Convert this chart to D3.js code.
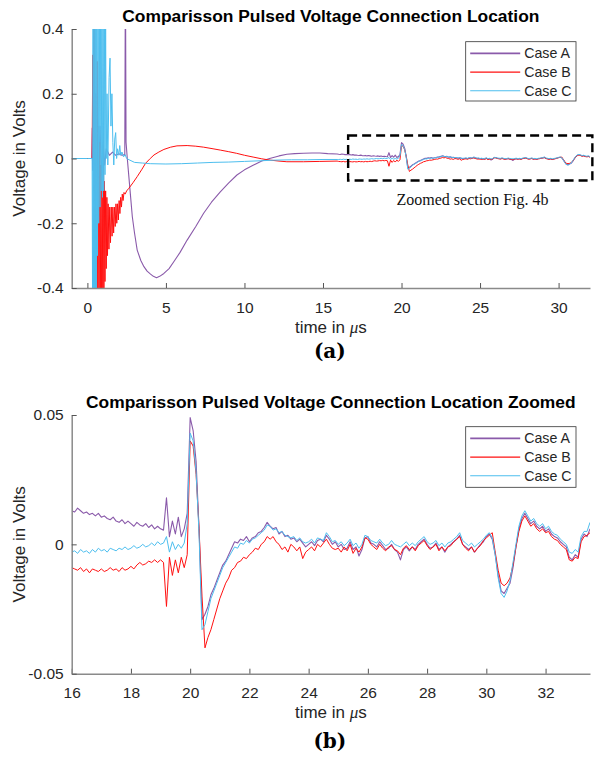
<!DOCTYPE html>
<html><head><meta charset="utf-8">
<script src="https://cdn.jsdelivr.net/npm/d3@7"></script>
<style>
body{margin:0;background:#fff}
svg{display:block}
</style>
</head><body>
<svg id="chart" width="600" height="758"></svg>
<script>
// ---------------- data ----------------
const seriesNames = ["Case A", "Case B", "Case C"];

// Early transient part (top panel): [time in µs, volts]
const earlyA = [[-1,0],[0,0],[0.28,0],[0.31,0.094],[0.33,-0.036],[0.36,0.02],[0.40,0.3],[0.44,-0.3],[0.50,0.2],[0.56,-0.2],
  [0.62,0.15],[0.70,-0.1],[0.80,0.1],[0.90,-0.05],[1.00,0.05],[1.10,-0.02],[1.20,0.03],[1.40,0.01],[1.60,0.02],[1.80,0.01],
  [2.00,0.015],[2.20,0.01],[2.38,0.012],[2.42,0.6],[2.46,0.05],[2.54,0.0],[2.70,-0.09],[2.86,-0.18],[3.00,-0.23],[3.17,-0.283],
  [3.40,-0.315],[3.60,-0.334],[3.80,-0.348],[4.02,-0.357],[4.20,-0.364],[4.40,-0.368],[4.60,-0.364],[4.87,-0.355],[5.20,-0.34],[5.50,-0.319],
  [5.90,-0.29],[6.35,-0.252],[6.90,-0.21],[7.40,-0.169],[7.90,-0.135],[8.46,-0.103],[9.00,-0.075],[9.52,-0.051],[10.00,-0.035],[10.58,-0.02],
  [11.10,-0.008],[11.60,0.0],[12.20,0.008],[12.70,0.013],[13.20,0.015],[13.75,0.016],[14.30,0.017],[14.80,0.017],[15.30,0.015],[15.90,0.014]];

const earlyB = [[-1,0],[0,0],[0.3,0],[0.34,0.32],[0.37,0.05],[0.40,0.6],[0.43,-0.1],[0.46,0.6],[0.50,-0.5],[0.54,0.2],
  [0.58,-0.5],[0.62,0.3],[0.66,-0.5],[0.70,0.1],[0.74,-0.5],[0.78,0.05],[0.82,-0.5],[0.86,-0.02],[0.90,-0.45],[0.94,-0.05],
  [0.98,-0.45],[1.02,0.11],[1.05,-0.42],[1.08,-0.07],[1.12,-0.38],[1.16,-0.1],[1.20,-0.34],[1.24,-0.12],[1.28,-0.3],[1.32,-0.14],
  [1.37,-0.28],[1.42,-0.15],[1.47,-0.26],[1.52,-0.15],[1.57,-0.24],[1.62,-0.15],[1.67,-0.23],[1.72,-0.15],[1.77,-0.21],[1.82,-0.14],
  [1.87,-0.2],[1.92,-0.14],[1.97,-0.19],[2.02,-0.13],[2.07,-0.17],[2.12,-0.12],[2.17,-0.15],[2.22,-0.11],[2.27,-0.13],[2.33,-0.105],
  [2.40,-0.11],[2.50,-0.1],[2.64,-0.092],[2.90,-0.075],[3.17,-0.056],[3.45,-0.035],[3.70,-0.015],[4.00,0.0],[4.24,0.011],[4.55,0.02],
  [4.87,0.028],[5.30,0.035],[5.70,0.039],[6.35,0.04],[6.90,0.038],[7.40,0.035],[8.00,0.03],[8.46,0.026],[9.00,0.021],[9.50,0.016],
  [10.00,0.01],[10.60,0.004],[11.10,-0.001],[11.64,-0.005],[12.20,-0.008],[12.70,-0.01],[13.75,-0.01],[14.80,-0.009],[15.90,-0.008]];

const earlyC = [[-1,0],[0,0],[0.3,0],[0.33,-0.5],[0.36,0.5],[0.39,-0.5],[0.42,0.5],[0.45,-0.5],[0.48,0.5],[0.51,-0.5],
  [0.54,0.5],[0.57,-0.45],[0.60,0.5],[0.64,-0.3],[0.68,0.5],[0.72,-0.2],[0.76,0.5],[0.80,-0.15],[0.84,0.5],[0.88,-0.1],
  [0.92,0.5],[0.96,-0.12],[1.00,0.45],[1.04,-0.1],[1.08,0.45],[1.12,-0.05],[1.16,0.42],[1.20,0.0],[1.25,0.2],[1.30,-0.02],
  [1.38,0.25],[1.44,0.31],[1.50,0.1],[1.56,0.2],[1.62,0.05],[1.68,-0.02],[1.74,0.06],[1.80,0.08],[1.86,0.0],[1.92,0.03],
  [2.00,0.01],[2.06,0.04],[2.12,0.01],[2.20,0.02],[2.30,0.005],[2.40,0.012],[2.50,0.0],[2.70,-0.005],[3.00,-0.012],[3.50,-0.014],
  [4.00,-0.016],[5.00,-0.017],[6.00,-0.016],[7.00,-0.014],[8.00,-0.012],[9.00,-0.011],[10.00,-0.009],[11.00,-0.007],[12.00,-0.005],[13.00,-0.004],
  [14.00,-0.004],[15.00,-0.003],[15.90,-0.003]];

// Zoomed section, sampled every 0.1 µs starting at 16 µs, values in mV
const zoomStart = 16;
const zoomStep = 0.1;
const zoomA_mV = [
  13, 12.5, 14, 13, 12, 12.5, 11.5, 12, 11, 12,
  10.5, 11, 10, 9.5, 10.5, 9, 8.5, 9.5, 8, 9,
  8, 7, 8.5, 7.5, 7, 8, 6.5, 7.5, 6, 7,
  6, 5.5, 18, 3, 9, 4, 10.5, 3, 6, 12,
  49, 44, 32, 6, -29, -27, -24, -19.5, -17, -14,
  -11, -8, -6.5, -4, -1.5, 1, 0.5, 2, 1.5, 3,
  1, 2.5, 3, 4.5, 5, 6.5, 8.5, 7, 6, 6.5,
  4, 5, 3, 3.5, 2, 2.5, 1, 2, 0.5, -1,
  0, 1, -0.5, 1.5, 2, 1, 3.5, 2, 0, 1,
  -1, 0, -2, -1.5, 1, -2, -1, -4.5, -2, 2.5,
  3, 0.5, 0, -1, 1, -0.5, -2, -1.5, 0, -2,
  -3, -6, -2, -1, -2.5, -1, -2, 0, 1, 2,
  0, -1.5, -1, 0.5, -2, -1, -3, -1, 0, 1,
  2, 3.5, 0, -1, -2, -1, -3, -1.5, 0, 1,
  3, 4, 2, -4, -12, -18, -19, -17, -15, -9,
  -1, 6, 10, 12, 10, 8, 9, 7, 6, 7,
  5, 6, 4, 3, 2.5, 1, 0, -1, -5, -6,
  -4, -5, 2, 4, 3, 6];
const zoomB_mV = [
  -9, -9.5, -10, -9, -10.5, -9.5, -11, -9.5, -10, -10.5,
  -9.5, -10.5, -10, -9, -10, -9.5, -10.5, -9, -10, -9.5,
  -8.5, -9.5, -8, -7, -8, -7.5, -6.5, -7, -6, -7,
  -6, -7, -24, -5, -12, -6, -11, -5, -9, -4,
  40, 38, 27, 6, -20, -40, -36, -33, -29, -25,
  -21, -18, -15, -13, -10, -9, -7, -6.5, -5, -5.5,
  -4, -3, -1.5, -2, 0, 1, 3, 2, 3, 1,
  0, -2, -1, -3, 0, -1, -2.5, -1, -5.5, -3,
  -2, -1, -2.5, 0, -1, 0.5, 2, 0, -1.5, -2,
  -1.5, -3, -1, -2.5, 0, -3.5, -1.5, -3, -1, 2.5,
  2, 0, -1, -2, 0, -1.5, -2.5, -1, -0.5, -2,
  -2.5, -4, -1.5, -0.5, -2, -1, -2.5, -0.5, 0.5, 1.5,
  -0.5, -2, -1, 0, -2.5, -1, -2.5, -1, -0.5, 1,
  2, 3, 0, -1.5, -2.5, -1, -3, -1.5, -0.5, 1.5,
  2.5, 3.5, 4.5, -3, -10, -15, -16, -15, -13, -8,
  -1, 5, 9, 11, 9, 7, 8, 6, 5, 6,
  4.5, 5, 3, 2, 1.5, 0, -1, -2, -6, -6.5,
  -5, -5.5, 1, 3, 3.5, 4.5];
const zoomC_mV = [
  -3, -2.5, -3.5, -2, -3, -2.5, -3.5, -2, -3, -1.5,
  -2.5, -2, -3, -1.5, -2, -2.5, -1.5, -2, -1, -2,
  -1.5, -0.5, -1.5, -1, 0, -1, -0.5, 0.5, -0.5, 1,
  0, 0.5, 3, -3, 1, -2, 0, -1.5, 0.5, 8,
  43, 40, 28, 4, -33, -31, -26, -21, -18, -15,
  -12, -9, -7, -5, -3, -1, -1.5, 0.5, 0, 1.5,
  0.5, 2, 2.5, 3.5, 4.5, 5.5, 7.5, 7, 5.5, 6,
  4.5, 5, 3.5, 3, 2.5, 3, 1.5, 2.5, 1, 0.5,
  1, 2, 0.5, 2.5, 2, 1.5, 4.5, 3, 1, 1.5,
  0, 1, -0.5, 0.5, 2, -0.5, 0.5, -1.5, 0, 3.5,
  3, 1.5, 1, 0.5, 2, 0.5, -0.5, 0, 1.5, 0,
  -0.5, -1, 0, 1, -0.5, 0.5, -0.5, 1, 2, 3,
  1, 0, 0.5, 1.5, -0.5, 0.5, -1, 0.5, 1, 2,
  3, 4.5, 1.5, 0.5, -0.5, 0.5, -1, 0, 1, 2,
  3.5, 4.5, 2.5, -4, -13, -19, -20.5, -18, -14, -7,
  0, 7, 11, 13, 11, 9, 10, 8, 7, 8,
  6, 7, 5, 4, 3.5, 2, 1, 0, -3, -3.5,
  -2, -3, 3, 5, 5, 8.5];

const topXTicks = [0, 5, 10, 15, 20, 25, 30];
const topXTickLabels = ["0", "5", "10", "15", "20", "25", "30"];
const topYTicks = [-0.4, -0.2, 0, 0.2, 0.4];
const topYTickLabels = ["-0.4", "-0.2", "0", "0.2", "0.4"];
const botXTicks = [16, 18, 20, 22, 24, 26, 28, 30, 32];
const botXTickLabels = ["16", "18", "20", "22", "24", "26", "28", "30", "32"];
const botYTicks = [-0.05, 0, 0.05];
const botYTickLabels = ["-0.05", "0", "0.05"];

// zoomed-section marker in top panel (data coordinates)
const zoomBoxT = [16.6, 32.15];
const zoomBoxV = [-0.068, 0.071];

// ---------------- build series ----------------
function zoomSeries(arr) { return arr.map((v, i) => [zoomStart + i * zoomStep, v / 1000]); }
const zA = zoomSeries(zoomA_mV), zB = zoomSeries(zoomB_mV), zC = zoomSeries(zoomC_mV);
const topSeries = [earlyA.concat(zA), earlyB.concat(zB), earlyC.concat(zC)];
const botSeries = [zA, zB, zC];

// ---------------- style ----------------
const colors = ["#8A5AAA", "#FF1010", "#4DBEEE"];
const widths = [1.1, 1, 1];
const SANS = "'Liberation Sans', Arial, Helvetica, sans-serif";
const TXT = "#262626";
const AX = "#8a8a8a";

const svg = d3.select("#chart");

function panel(cfg) {
  const x = d3.scaleLinear().domain(cfg.xDomain).range([cfg.left, cfg.right]);
  const y = d3.scaleLinear().domain(cfg.yDomain).range([cfg.bottom, cfg.top]);
  const g = svg.append("g");
  const clipId = cfg.id + "-clip";
  svg.append("clipPath").attr("id", clipId).append("rect")
    .attr("x", cfg.left).attr("y", cfg.top)
    .attr("width", cfg.right - cfg.left).attr("height", cfg.bottom - cfg.top);

  const line = d3.line().x(d => x(d[0])).y(d => y(d[1]));
  const lg = g.append("g").attr("clip-path", `url(#${clipId})`);
  cfg.series.forEach((s, i) => {
    lg.append("path").attr("d", line(s)).attr("fill", "none")
      .attr("stroke", colors[i]).attr("stroke-width", widths[i])
      .attr("stroke-linejoin", "round");
  });

  const xa = g.append("g").attr("transform", `translate(0,${cfg.bottom})`)
    .call(d3.axisBottom(x).tickValues(cfg.xTicks).tickFormat((d, i) => cfg.xTickLabels[i])
      .tickSizeInner(-5).tickSizeOuter(0).tickPadding(cfg.xPad));
  const ya = g.append("g").attr("transform", `translate(${cfg.left},0)`)
    .call(d3.axisLeft(y).tickValues(cfg.yTicks).tickFormat((d, i) => cfg.yTickLabels[i])
      .tickSizeInner(-5).tickSizeOuter(0).tickPadding(8));
  [xa, ya].forEach(a => {
    a.attr("font-family", SANS).attr("font-size", 15.5);
    a.select(".domain").attr("stroke", AX).attr("stroke-width", 1.5);
    a.selectAll(".tick line").attr("stroke", "#555").attr("stroke-width", 1);
    a.selectAll(".tick text").attr("fill", TXT);
  });

  const cx = (cfg.left + cfg.right) / 2;
  g.append("text").attr("x", cx).attr("y", cfg.titleY).attr("text-anchor", "middle")
    .attr("font-family", SANS).attr("font-weight", "bold").attr("font-size", 17.4)
    .attr("fill", "#000").text(cfg.title);

  const xl = g.append("text").attr("x", cx).attr("y", cfg.xLabelY).attr("text-anchor", "middle")
    .attr("font-family", SANS).attr("font-size", 17).attr("fill", TXT);
  xl.append("tspan").text("time in ");
  xl.append("tspan").attr("font-family", "'Liberation Serif','DejaVu Serif',serif").attr("font-style", "italic").text("\u03bc");
  xl.append("tspan").text("s");

  g.append("text").attr("transform", `translate(25,${(cfg.top + cfg.bottom) / 2}) rotate(-90)`)
    .attr("text-anchor", "middle").attr("font-family", SANS).attr("font-size", 17)
    .attr("fill", TXT).text("Voltage in Volts");

  // legend
  const L = cfg.legend;
  const leg = g.append("g");
  leg.append("rect").attr("x", L.x).attr("y", L.y).attr("width", L.w).attr("height", L.h)
    .attr("fill", "#fff").attr("stroke", "#333").attr("stroke-width", 0.8);
  seriesNames.forEach((n, i) => {
    const yy = L.y + 11.7 + i * 18.7;
    leg.append("line").attr("x1", L.x + 4.5).attr("x2", L.x + 54.5).attr("y1", yy).attr("y2", yy)
      .attr("stroke", colors[i]).attr("stroke-width", i === 0 ? 1.8 : 1.1);
    leg.append("text").attr("x", L.x + 58.5).attr("y", yy).attr("dy", "0.35em")
      .attr("font-family", SANS).attr("font-size", 14.2).attr("fill", TXT).text(n);
  });

  g.append("text").attr("x", cx - 1).attr("y", cfg.tagY).attr("text-anchor", "middle")
    .attr("font-family", "'DejaVu Serif', serif").attr("font-weight", "bold").attr("font-size", 20)
    .attr("fill", "#000").text(cfg.tag);

  return { x, y, g };
}

const topPanel = panel({
  id: "top", xDomain: [-1, 32], yDomain: [-0.4, 0.4],
  left: 71.7, right: 590, top: 29, bottom: 288,
  series: topSeries, xTicks: topXTicks, xTickLabels: topXTickLabels,
  yTicks: topYTicks, yTickLabels: topYTickLabels, xPad: 14,
  title: "Comparisson Pulsed Voltage Connection Location", titleY: 21.5,
  xLabelY: 333, legend: { x: 465.7, y: 41.7, w: 110.3, h: 59.3 }, tag: "(a)", tagY: 358
});

// zoom marker box and annotation
topPanel.g.append("rect")
  .attr("x", topPanel.x(zoomBoxT[0])).attr("y", topPanel.y(zoomBoxV[1]))
  .attr("width", topPanel.x(zoomBoxT[1]) - topPanel.x(zoomBoxT[0]))
  .attr("height", topPanel.y(zoomBoxV[0]) - topPanel.y(zoomBoxV[1]))
  .attr("fill", "none").attr("stroke", "#000").attr("stroke-width", 2.4)
  .attr("stroke-dasharray", "9,5");
topPanel.g.append("text").attr("x", 472.5).attr("y", 205).attr("text-anchor", "middle")
  .attr("font-family", "'Liberation Serif', 'Times New Roman', serif").attr("font-size", 16)
  .attr("fill", "#111").text("Zoomed section Fig. 4b");

const bottomPanel = panel({
  id: "bot", xDomain: [16, 33.5], yDomain: [-0.05, 0.05],
  left: 71.7, right: 590, top: 415, bottom: 673.7,
  series: botSeries, xTicks: botXTicks, xTickLabels: botXTickLabels,
  yTicks: botYTicks, yTickLabels: botYTickLabels, xPad: 13,
  title: "Comparisson Pulsed Voltage Connection Location Zoomed", titleY: 408,
  xLabelY: 718, legend: { x: 465.7, y: 426.7, w: 110.3, h: 60.6 }, tag: "(b)", tagY: 748
});
</script>
</body></html>
